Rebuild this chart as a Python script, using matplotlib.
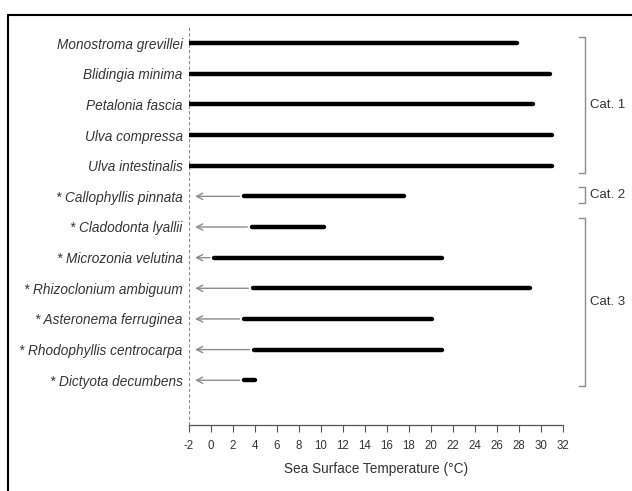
import matplotlib
matplotlib.use("Agg")
import matplotlib.pyplot as plt
from matplotlib.patches import Rectangle
import matplotlib.transforms as mtransforms

plt.rcParams["font.family"] = ["Liberation Sans", "DejaVu Sans"]

# ─────────────────────────────────────────────
# DATA
# ─────────────────────────────────────────────
species = [
    "Monostroma grevillei", "Blidingia minima", "Petalonia fascia",
    "Ulva compressa", "Ulva intestinalis", "* Callophyllis pinnata",
    "* Cladodonta lyallii", "* Microzonia velutina", "* Rhizoclonium ambiguum",
    "* Asteronema ferruginea", "* Rhodophyllis centrocarpa", "* Dictyota decumbens",
]
sst_min = [-2, -2, -2, -2, -2, 3.0, 3.7, 0.3, 3.8, 3.0, 3.9, 3.0]
sst_max = [27.8, 30.8, 29.3, 31.0, 31.0, 17.5, 10.3, 21.0, 29.0, 20.1, 21.0, 4.0]
open_low = [False] * 5 + [True] * 7   # lower limit unknown -> arrow

cat_labels = ["Cat. 1", "Cat. 2", "Cat. 3"]
cat_rows = [(-0.2, 4.24), (4.7, 5.22), (5.71, 11.19)]

xticks = list(range(-2, 33, 2))

TEXT = "#333333"
GRAY = "#8c8c8c"

# ─────────────────────────────────────────────
fig = plt.figure(figsize=(6.32, 4.91), dpi=100)
ax = fig.add_axes([189 / 632, 66 / 491, 374 / 632, 400 / 491])

rows = list(range(len(species)))
for y, lo, hi, arrow in zip(rows, sst_min, sst_max, open_low):
    ax.plot([lo, hi], [y, y], color="black", lw=3.2, solid_capstyle="round",
            zorder=3)
    if arrow:
        ax.annotate("", xy=(-1.45, y), xytext=(lo - 0.4, y),
                    arrowprops=dict(arrowstyle="->", color=GRAY, lw=1.0,
                                    mutation_scale=11, shrinkA=0, shrinkB=0))

ax.set_xlim(-2, 32)
ax.set_ylim(12.46, -0.59)

# dashed reference line at the left edge
ax.axvline(-2, color=GRAY, lw=0.8, ls=(0, (3, 2)), zorder=1)

for side in ["top", "right", "left"]:
    ax.spines[side].set_visible(False)
ax.spines["bottom"].set_color("#555555")
ax.spines["bottom"].set_linewidth(0.9)

ax.set_xticks(xticks)
ax.set_xticklabels([str(t) for t in xticks], fontsize=8.3, color=TEXT)
ax.tick_params(axis="x", length=5, width=0.8, color="#555555", pad=6)

ax.set_yticks(rows)
ax.set_yticklabels(species, fontsize=9.8, style="italic", color=TEXT)
ax.tick_params(axis="y", length=0, pad=4.5)

ax.set_xlabel("Sea Surface Temperature (°C)", fontsize=9.8, color=TEXT,
              labelpad=7)

# category brackets on the right
trans = mtransforms.blended_transform_factory(ax.transAxes, ax.transData)
xv, xt, xl = 1.059, 1.043, 1.072
for label, (y0, y1) in zip(cat_labels, cat_rows):
    ax.plot([xt, xv, xv, xt], [y0, y0, y1, y1], color=GRAY, lw=1.0,
            transform=trans, clip_on=False)
    ax.text(xl, (y0 + y1) / 2, label, transform=trans, fontsize=9.5,
            color=TEXT, va="center", ha="left")

# outer frame (cropped on right and bottom)
fig.patches.append(Rectangle((8 / 632, -0.2), 1.2, 1.2 - 15 / 491,
                             transform=fig.transFigure, fill=False,
                             edgecolor="black", lw=1.5))

fig.savefig("out.png", dpi=100)
